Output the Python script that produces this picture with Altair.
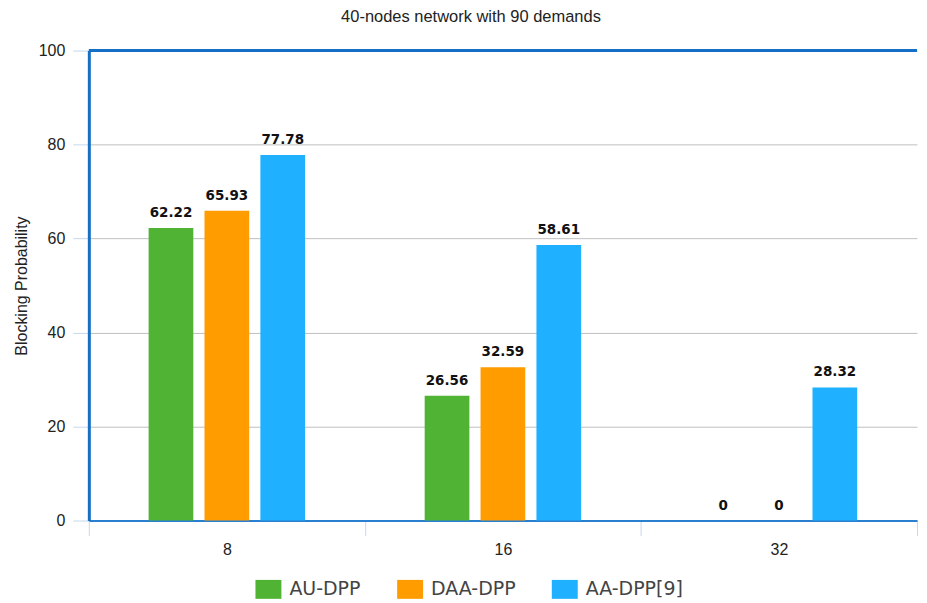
import altair as alt
import pandas as pd

groups = ["8", "16", "32"]
series = ["AU-DPP", "DAA-DPP", "AA-DPP[9]"]
au_dpp = [62.22, 26.56, 0]
daa_dpp = [65.93, 32.59, 0]
aa_dpp = [77.78, 58.61, 28.32]
colors = ["#51b334", "#fe9c00", "#1fb0ff"]
y_ticks = [0, 20, 40, 60, 80, 100]

rows = []
for s, vals in zip(series, [au_dpp, daa_dpp, aa_dpp]):
    for g, v in zip(groups, vals):
        rows.append({"group": g, "series": s, "value": v})
df = pd.DataFrame(rows)

base = alt.Chart(df)

# empty slots on either side of each group give the gap between groups
offset_domain = ["_gap_left"] + series + ["_gap_right"]

x_enc = alt.X(
    "group:N", sort=groups, title=None,
    scale=alt.Scale(paddingInner=0, paddingOuter=0),
    axis=alt.Axis(labelAngle=0, tickBand="extent", tickSize=15, tickColor="#c5d8ee",
                  domainColor="#2a7fcf", domainWidth=2, labelFontSize=16,
                  labelColor="#222", labelPadding=6, labelFont="Liberation Sans"),
)
y_scale = alt.Scale(domain=[0, 100], nice=False)

bars = base.mark_bar().encode(
    x=x_enc,
    xOffset=alt.XOffset("series:N",
                        scale=alt.Scale(domain=offset_domain, paddingInner=0.2,
                                        paddingOuter=0.07)),
    y=alt.Y("value:Q", scale=y_scale, title="Blocking Probability",
            axis=alt.Axis(values=y_ticks, grid=True, gridColor="#c0c0c0",
                          tickColor="#c5d8ee", tickSize=16, domainColor="#1570c5",
                          domainWidth=3, labelFontSize=16, labelColor="#222",
                          labelPadding=8, labelFont="Liberation Sans",
                          titleFont="Liberation Sans", titleFontSize=16,
                          titleFontWeight="normal", titleColor="#222", titlePadding=9)),
    color=alt.Color("series:N", sort=series,
                    scale=alt.Scale(domain=series, range=colors),
                    legend=alt.Legend(title=None, orient="none", direction="horizontal",
                                      legendX=167, legendY=527,
                                      symbolType="M-1,-0.73H1V0.73H-1Z", symbolSize=676,
                                      symbolStrokeWidth=0, symbolOpacity=1,
                                      labelFont="DejaVu Sans", labelFontSize=19,
                                      labelColor="#444", columnPadding=36, labelOffset=8,
                                      symbolOffset=0, padding=0)),
)

labels = base.mark_text(baseline="bottom", dy=-8, fontSize=13.5, fontWeight="bold",
                        font="DejaVu Sans", color="#111").encode(
    x=alt.X("group:N", sort=groups),
    xOffset=alt.XOffset("series:N"),
    y=alt.Y("value:Q", scale=y_scale),
    text=alt.Text("value:Q"),
)

top_rule = alt.Chart(pd.DataFrame({"v": [100]})).mark_rule(
    color="#1570c5", strokeWidth=3).encode(y=alt.Y("v:Q", scale=y_scale))

chart = alt.layer(bars, labels, top_rule).properties(
    width=830, height=471,
    padding={"left": 5, "right": 0, "top": 0, "bottom": 0},
    title=alt.TitleParams("40-nodes network with 90 demands", fontSize=16.5,
                          font="Liberation Sans", fontWeight="normal", color="#222",
                          offset=11, dx=-32, dy=-6),
).configure_view(stroke=None)

chart.save("out.html", embed_options={"renderer": "svg", "actions": False})
